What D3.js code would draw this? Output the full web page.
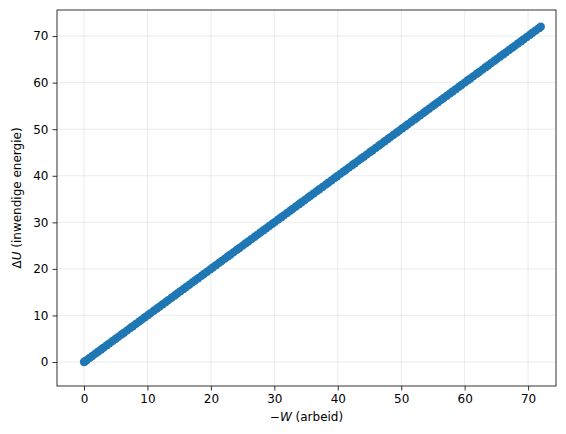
<!DOCTYPE html>
<html>
<head>
<meta charset="utf-8">
<script src="https://cdn.jsdelivr.net/npm/d3@7"></script>
<style>
  body { margin: 0; background: #fff; }
  text { font-family: "DejaVu Sans", sans-serif; }
</style>
</head>
<body>
<svg id="chart" width="566" height="434"></svg>
<script>
// -W (arbeid) values
const work = [0, 0.1, 0.4, 0.9, 1.3, 1.8, 2.2, 2.7, 3.1, 3.6, 4.0, 4.5, 5.0, 5.4, 5.9, 6.3, 6.8, 7.3, 7.7,
  8.2, 8.7, 9.1, 9.6, 10.1, 10.5, 11.0, 11.5, 11.9, 12.4, 12.9, 13.3, 13.8, 14.3, 14.7, 15.2, 15.7,
  16.1, 16.6, 17.1, 17.5, 18.0, 18.5, 18.9, 19.4, 19.9, 20.3, 20.8, 21.3, 21.7, 22.2, 22.7, 23.1,
  23.6, 24.1, 24.5, 25.0, 25.5, 25.9, 26.4, 26.9, 27.3, 27.8, 28.3, 28.7, 29.2, 29.7, 30.1, 30.6,
  31.1, 31.5, 32.0, 32.5, 32.9, 33.4, 33.9, 34.3, 34.8, 35.3, 35.7, 36.2, 36.7, 37.1, 37.6, 38.1,
  38.5, 39.0, 39.5, 39.9, 40.4, 40.9, 41.3, 41.8, 42.3, 42.7, 43.2, 43.7, 44.1, 44.6, 45.1, 45.5,
  46.0, 46.5, 46.9, 47.4, 47.9, 48.3, 48.8, 49.3, 49.7, 50.2, 50.7, 51.1, 51.6, 52.1, 52.5, 53.0,
  53.5, 53.9, 54.4, 54.9, 55.3, 55.8, 56.3, 56.7, 57.2, 57.7, 58.1, 58.6, 59.1, 59.5, 60.0, 60.5,
  60.9, 61.4, 61.9, 62.3, 62.8, 63.3, 63.7, 64.2, 64.7, 65.1, 65.6, 66.1, 66.5, 67.0, 67.5, 67.9,
  68.4, 68.9, 69.3, 69.8, 70.3, 70.7, 71.2, 71.7, 72.0];
// ΔU (inwendige energie) values: the points lie on the diagonal
const energy = [0, 0.1, 0.4, 0.9, 1.3, 1.8, 2.2, 2.7, 3.1, 3.6, 4.0, 4.5, 5.0, 5.4, 5.9, 6.3, 6.8, 7.3, 7.7,
  8.2, 8.7, 9.1, 9.6, 10.1, 10.5, 11.0, 11.5, 11.9, 12.4, 12.9, 13.3, 13.8, 14.3, 14.7, 15.2, 15.7,
  16.1, 16.6, 17.1, 17.5, 18.0, 18.5, 18.9, 19.4, 19.9, 20.3, 20.8, 21.3, 21.7, 22.2, 22.7, 23.1,
  23.6, 24.1, 24.5, 25.0, 25.5, 25.9, 26.4, 26.9, 27.3, 27.8, 28.3, 28.7, 29.2, 29.7, 30.1, 30.6,
  31.1, 31.5, 32.0, 32.5, 32.9, 33.4, 33.9, 34.3, 34.8, 35.3, 35.7, 36.2, 36.7, 37.1, 37.6, 38.1,
  38.5, 39.0, 39.5, 39.9, 40.4, 40.9, 41.3, 41.8, 42.3, 42.7, 43.2, 43.7, 44.1, 44.6, 45.1, 45.5,
  46.0, 46.5, 46.9, 47.4, 47.9, 48.3, 48.8, 49.3, 49.7, 50.2, 50.7, 51.1, 51.6, 52.1, 52.5, 53.0,
  53.5, 53.9, 54.4, 54.9, 55.3, 55.8, 56.3, 56.7, 57.2, 57.7, 58.1, 58.6, 59.1, 59.5, 60.0, 60.5,
  60.9, 61.4, 61.9, 62.3, 62.8, 63.3, 63.7, 64.2, 64.7, 65.1, 65.6, 66.1, 66.5, 67.0, 67.5, 67.9,
  68.4, 68.9, 69.3, 69.8, 70.3, 70.7, 71.2, 71.7, 72.0];
const xTicks = [0, 10, 20, 30, 40, 50, 60, 70];
const yTicks = [0, 10, 20, 30, 40, 50, 60, 70];

const margin = { top: 10, right: 10, bottom: 48, left: 57 };
const width = 566 - margin.left - margin.right;
const height = 434 - margin.top - margin.bottom;

const x = d3.scaleLinear().domain([-4.26, 74.4]).range([0, width]);
const y = d3.scaleLinear().domain([-5.15, 75.6]).range([height, 0]);

const svg = d3.select('#chart');
const g = svg.append('g').attr('transform', `translate(${margin.left},${margin.top})`);

// Grid
g.append('g').selectAll('line').data(xTicks).join('line')
  .attr('x1', d => x(d)).attr('x2', d => x(d)).attr('y1', 0).attr('y2', height)
  .attr('stroke', '#b0b0b0').attr('stroke-opacity', 0.3).attr('stroke-width', 0.8);
g.append('g').selectAll('line').data(yTicks).join('line')
  .attr('y1', d => y(d)).attr('y2', d => y(d)).attr('x1', 0).attr('x2', width)
  .attr('stroke', '#b0b0b0').attr('stroke-opacity', 0.3).attr('stroke-width', 0.8);

// Points
g.append('g').selectAll('circle').data(work).join('circle')
  .attr('cx', d => x(d)).attr('cy', (d, i) => y(energy[i]))
  .attr('r', 4.2).attr('fill', '#1f77b4');

// Axes
const xAxis = g.append('g').attr('transform', `translate(0,${height})`)
  .call(d3.axisBottom(x).tickValues(xTicks).tickSize(4.5).tickPadding(4));
const yAxis = g.append('g')
  .call(d3.axisLeft(y).tickValues(yTicks).tickSize(4.5).tickPadding(4));
[xAxis, yAxis].forEach(a => {
  a.select('.domain').remove();
  a.selectAll('text').attr('font-size', 12).attr('fill', '#000').style('font-family', 'DejaVu Sans');
  a.selectAll('line').attr('stroke', '#000').attr('stroke-width', 0.8);
});

// Frame
g.append('rect').attr('width', width).attr('height', height)
  .attr('fill', 'none').attr('stroke', '#000').attr('stroke-width', 0.8);

// Labels
const xl = svg.append('text').attr('x', margin.left + width / 2).attr('y', 421)
  .attr('text-anchor', 'middle').attr('font-size', 12);
xl.append('tspan').text('\u2212');
xl.append('tspan').attr('font-style', 'italic').text('W');
xl.append('tspan').text(' (arbeid)');

const yl = svg.append('text')
  .attr('transform', `translate(21,${margin.top + height / 2}) rotate(-90)`)
  .attr('text-anchor', 'middle').attr('font-size', 12);
yl.append('tspan').text('\u0394');
yl.append('tspan').attr('font-style', 'italic').text('U');
yl.append('tspan').text(' (inwendige energie)');
</script>
</body>
</html>
